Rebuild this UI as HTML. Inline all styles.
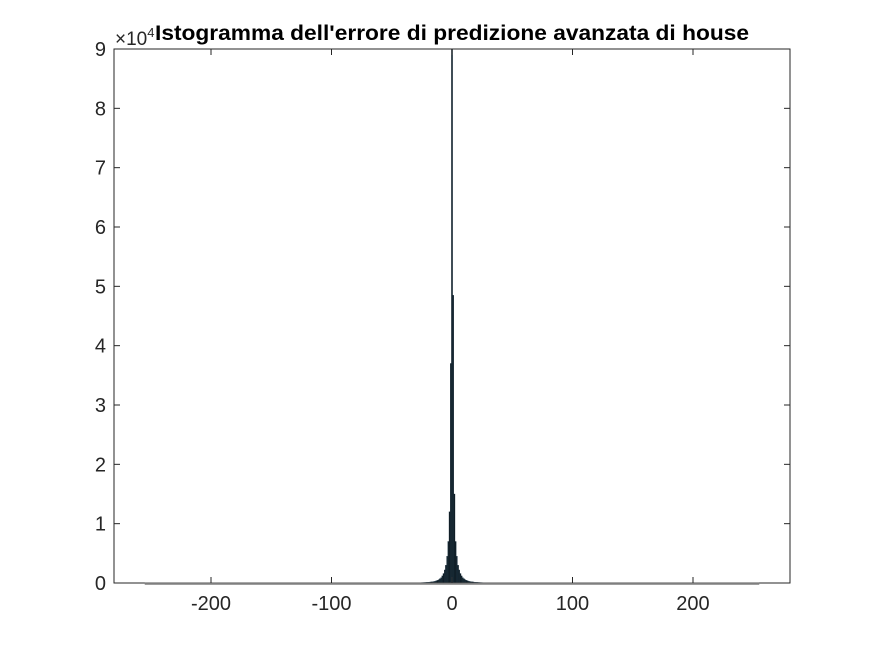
<!DOCTYPE html>
<html><head><meta charset="utf-8"><style>
body{margin:0;background:#fff;}
svg text{font-family:"Liberation Sans",sans-serif;fill:#262626;}
</style></head><body>
<svg id="chart" width="875" height="656" xmlns="http://www.w3.org/2000/svg">
<rect x="114" y="49" width="676" height="534" fill="#fff"/>
<g id="bars"></g>
<g id="axes"></g>
<text x="115" y="45" font-size="19">×10<tspan font-size="13" dy="-8">4</tspan></text>
<text x="452" y="40" text-anchor="middle" font-size="21" font-weight="bold" textLength="594" lengthAdjust="spacingAndGlyphs" style="fill:#000">Istogramma dell'errore di predizione avanzata di house</text>
</svg>
<script>
const binCenters=[-30,-29,-28,-27,-26,-25,-24,-23,-22,-21,-20,-19,-18,-17,-16,-15,-14,-13,-12,-11,-10,-9,-8,-7,-6,-5,-4,-3,-2,-1,0,1,2,3,4,5,6,7,8,9,10,11,12,13,14,15,16,17,18,19,20,21,22,23,24,25,26,27,28,29,30];
const counts=[0.004,0.004,0.005,0.005,0.006,0.007,0.008,0.009,0.01,0.011,0.012,0.014,0.017,0.02,0.022,0.025,0.03,0.037,0.045,0.055,0.07,0.09,0.12,0.16,0.22,0.3,0.45,0.7,1.2,3.7,9.5,4.85,1.5,0.7,0.45,0.3,0.22,0.16,0.12,0.09,0.07,0.055,0.045,0.037,0.03,0.025,0.022,0.02,0.017,0.014,0.012,0.011,0.01,0.009,0.008,0.007,0.006,0.005,0.005,0.004,0.004];
const tailRange=[-255,255];
const xTicks=[-200,-100,0,100,200];
const yTicks=[0,1,2,3,4,5,6,7,8,9];
const X0=114,X1=790,Y0=583,Y1=49,xMin=-280.5,xMax=280.5,yMax=9;
const xs=v=>X0+(v-xMin)/(xMax-xMin)*(X1-X0);
const ys=v=>Y0-Math.min(v,yMax)/yMax*(Y0-Y1);
const NS='http://www.w3.org/2000/svg';
function mk(t,a,p){const e=document.createElementNS(NS,t);for(const k in a)e.setAttribute(k,a[k]);p.appendChild(e);return e;}
const bars=document.getElementById('bars'),axes=document.getElementById('axes');
binCenters.forEach((c,i)=>{
  const y=ys(counts[i]);
  const r=mk('rect',{x:xs(c-0.5),y:y,width:xs(c+0.5)-xs(c-0.5),height:Y0-y,fill:'#0e1a22',stroke:'#1c3444','stroke-width':0.3},bars);
  
  
});
const box=mk('rect',{x:X0,y:Y1,width:X1-X0,height:Y0-Y1,fill:'none',stroke:'#262626','stroke-width':1},axes);


const tl=mk('line',{x1:xs(tailRange[0]),x2:xs(tailRange[1]),y1:Y0+0.8,y2:Y0+0.8,stroke:'#7f7f7f','stroke-width':2},axes);


xTicks.forEach(t=>{
  const x=xs(t);
  mk('line',{x1:x,x2:x,y1:Y0,y2:Y0-6,stroke:'#262626'},axes);
  mk('line',{x1:x,x2:x,y1:Y1,y2:Y1+6,stroke:'#262626'},axes);
  const tx=mk('text',{x:x,y:Y0+27,'text-anchor':'middle','font-size':20},axes);
  tx.textContent=t<0?'-'+Math.abs(t):String(t);
  
  
});
yTicks.forEach(t=>{
  const y=ys(t);
  mk('line',{x1:X0,x2:X0+6,y1:y,y2:y,stroke:'#262626'},axes);
  mk('line',{x1:X1,x2:X1-6,y1:y,y2:y,stroke:'#262626'},axes);
  const tx=mk('text',{x:X0-8,y:y+7,'text-anchor':'end','font-size':20},axes);
  tx.textContent=String(t);
  
  
});
</script>
</body></html>
